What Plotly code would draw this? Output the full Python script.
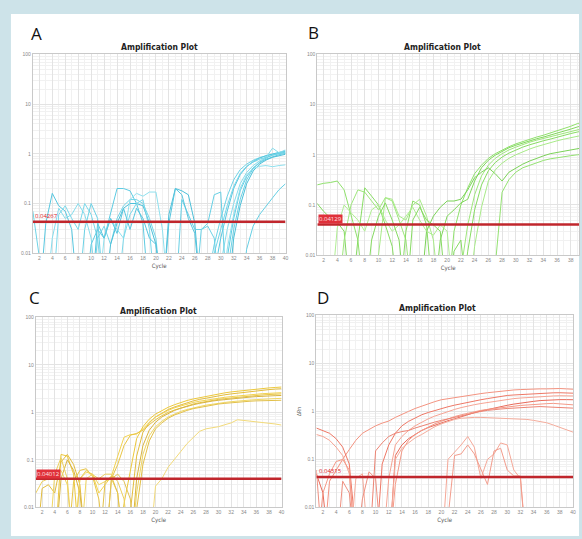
import math
import plotly.graph_objects as go

L = 0.001  # reading that falls below the 0.01 floor of the log axis

CYCLES = list(range(1, 41))
X_TICK_VALUES = [2, 4, 6, 8, 10, 12, 14, 16, 18, 20, 22, 24, 26, 28, 30, 32, 34, 36, 38, 40]
X_TICK_LABELS = ["2", "4", "6", "8", "10", "12", "14", "16", "18", "20",
                 "22", "24", "26", "28", "30", "32", "34", "36", "38", "40"]
Y_TICK_VALUES = [0.01, 0.1, 1, 10, 100]
Y_TICK_LABELS = ["0.01", "0.1", "1", "10", "100"]
THRESHOLDS = [0.043, 0.041, 0.040, 0.043]
THRESHOLD_LABELS = ["0.04267", "0.04129", "0.04012", "0.04315"]
PANEL_LETTERS = ["A", "B", "C", "D"]
PANEL_TITLE = "Amplification Plot"
X_TITLE = "Cycle"

# ---------------- Panel A (cyan) ----------------
A01 = [0.07, 0.012, L, L, L, L, L, L, L, L,
       L, L, L, L, L, L, L, L, L, L,
       L, L, L, L, L, L, L, 0.003, 0.015, 0.05,
       0.14, 0.3, 0.48, 0.62, 0.74, 0.84, 0.92, 0.98, 1.05, 1.12]
A02 = [L, L, 0.04, 0.16, 0.09, 0.07, 0.03, L, L, L,
       L, L, L, L, L, L, L, L, L, L,
       L, L, L, L, L, L, L, L, 0.004, 0.02,
       0.07, 0.2, 0.38, 0.55, 0.7, 0.82, 0.92, 1.0, 1.08, 1.15]
A03 = [L, L, L, 0.02, 0.08, 0.05, 0.06, 0.1, 0.06, 0.02,
       L, L, L, L, L, L, L, L, L, L,
       L, L, L, L, L, L, L, L, L, 0.006,
       0.03, 0.1, 0.25, 0.42, 0.58, 0.72, 0.85, 1.3, 1.05, 1.2]
A04 = [L, L, L, L, L, L, L, L, L, 0.015,
       0.03, 0.02, 0.06, 0.2, 0.2, 0.18, 0.1, 0.04, L, L,
       L, L, L, L, L, L, L, L, L, L,
       0.008, 0.05, 0.18, 0.35, 0.52, 0.66, 0.78, 0.88, 0.96, 1.02]
A05 = [L, L, L, L, L, L, L, L, L, L,
       0.02, 0.035, 0.015, 0.05, 0.09, 0.12, 0.12, 0.1, 0.05, 0.02,
       L, L, L, L, L, L, L, L, 0.01, 0.03,
       0.09, 0.22, 0.4, 0.56, 0.68, 0.78, 0.86, 0.93, 1.0, 1.06]
A06 = [L, L, L, L, L, L, L, L, L, L,
       L, L, 0.015, 0.04, 0.08, 0.1, 0.1, 0.09, 0.04, 0.015,
       L, 0.06, 0.2, 0.18, 0.15, 0.04, L, L, L, L,
       L, 0.02, 0.09, 0.25, 0.45, 0.62, 0.75, 0.85, 0.92, 0.98]
A07 = [L, L, L, L, L, L, L, L, L, L,
       L, 0.02, 0.05, 0.03, 0.02, 0.12, 0.16, 0.14, 0.17, 0.17,
       0.03, L, L, L, L, L, L, L, L, L,
       0.012, 0.06, 0.2, 0.38, 0.5, 0.56, 0.58, 0.55, 0.58, 0.6]
A08 = [L, L, L, L, L, L, L, L, L, L,
       L, L, L, L, L, L, L, L, L, L,
       L, L, L, 0.12, 0.06, 0.03, 0.03, 0.04, 0.15, 0.17,
       L, L, L, 0.012, 0.035, 0.06, 0.09, 0.13, 0.19, 0.25]
A09 = [L, L, L, L, 0.06, 0.09, 0.05, 0.03, 0.1, 0.06,
       0.02, L, L, L, 0.02, 0.06, 0.1, 0.12, 0.03, L,
       L, L, L, L, L, L, L, L, L, L,
       L, L, L, L, L, L, L, L, L, L]
A10 = [L, L, L, L, L, L, L, L, L, L,
       0.04, 0.02, 0.05, 0.025, 0.08, 0.03, 0.08, 0.05, 0.02, 0.015,
       L, 0.04, 0.2, 0.15, 0.05, 0.025, L, L, L, L,
       L, L, L, L, L, L, L, L, L, L]
A11 = [L, L, L, L, L, L, L, L, 0.03, 0.1,
       0.05, L, L, L, L, L, L, L, L, L,
       L, L, L, L, L, L, 0.03, 0.035, 0.02, L,
       0.004, 0.03, 0.12, 0.3, 0.5, 0.68, 0.82, 0.95, 1.02, 1.08]

# ---------------- Panel B (green) ----------------
B01 = [0.25, 0.27, 0.28, 0.3, 0.2, 0.06, 0.02, L, L, L,
       L, L, L, L, L, L, L, L, L, L,
       0.03, 0.1, 0.22, 0.42, 0.62, 0.85, 1.05, 1.25, 1.45, 1.65,
       1.85, 2.05, 2.25, 2.45, 2.7, 3.0, 3.35, 3.7, 4.2, 4.5]
B02 = [0.11, 0.075, 0.055, 0.045, 0.03, L, L, L, L, L,
       L, L, L, L, L, L, L, L, 0.02, 0.06,
       0.08, 0.11, 0.13, 0.3, 0.55, 0.78, 0.98, 1.18, 1.38, 1.55,
       1.72, 1.9, 2.08, 2.25, 2.45, 2.7, 2.95, 3.25, 3.6, 3.9]
B03 = [L, L, L, L, 0.02, 0.1, 0.2, 0.18, 0.12, 0.08,
       0.14, 0.12, 0.05, 0.02, L, L, L, L, L, L,
       L, 0.005, 0.04, 0.16, 0.38, 0.62, 0.85, 1.05, 1.25, 1.42,
       1.6, 1.78, 1.95, 2.12, 2.3, 2.5, 2.72, 2.95, 3.2, 3.4]
B04 = [L, L, L, L, L, L, 0.02, 0.22, 0.15, 0.1,
       0.04, 0.015, L, 0.03, 0.12, 0.1, 0.04, L, L, L,
       L, L, 0.012, 0.08, 0.25, 0.48, 0.7, 0.9, 1.08, 1.25,
       1.42, 1.58, 1.75, 1.9, 2.05, 2.25, 2.45, 2.65, 2.85, 3.0]
B05 = [L, L, L, L, L, L, L, L, L, 0.01,
       0.14, 0.13, 0.06, 0.05, 0.1, 0.13, 0.06, 0.02, L, L,
       L, L, L, 0.015, 0.09, 0.3, 0.5, 0.68, 0.85, 1.0,
       1.15, 1.3, 1.45, 1.6, 1.75, 1.9, 2.05, 2.2, 2.4, 2.5]
B06 = [L, L, L, L, L, L, L, L, L, L,
       L, L, L, L, L, L, 0.03, 0.06, 0.09, 0.12,
       0.12, 0.13, 0.2, 0.35, 0.45, 0.55, 0.42, 0.3, 0.45, 0.55,
       0.65, 0.75, 0.85, 0.95, 1.05, 1.12, 1.2, 1.28, 1.35, 1.4]
B07 = [L, L, L, L, L, L, L, L, L, L,
       L, L, L, L, L, L, L, L, L, L,
       L, L, L, L, L, L, 0.006, 0.18, 0.32, 0.45,
       0.55, 0.62, 0.7, 0.77, 0.83, 0.88, 0.92, 0.96, 1.0, 1.03]
B08 = [L, L, L, 0.035, 0.1, 0.07, 0.05, 0.03, 0.08, 0.1,
       0.05, 0.03, 0.04, 0.06, 0.09, 0.05, 0.03, 0.025, 0.04, 0.03,
       L, L, L, L, L, L, L, L, L, L,
       L, L, L, L, L, L, L, L, L, L]
B09 = [L, L, L, L, L, L, L, L, 0.02, 0.06,
       0.11, 0.05, 0.02, L, 0.05, 0.09, 0.05, 0.04, 0.03, L,
       0.012, 0.02, L, L, L, L, L, L, L, L,
       L, L, L, L, L, L, L, L, L, L]

# ---------------- Panel C (gold) ----------------
C01 = [L, L, L, L, 0.13, 0.12, 0.05, L, L, L,
       L, L, L, L, 0.012, 0.06, 0.28, 0.5, 0.72, 0.92,
       1.1, 1.28, 1.45, 1.62, 1.78, 1.92, 2.05, 2.2, 2.33, 2.45,
       2.58, 2.7, 2.8, 2.9, 3.0, 3.1, 3.2, 3.28, 3.35, 3.42]
C02 = [L, 0.025, 0.03, 0.02, 0.09, 0.13, 0.08, 0.03, L, L,
       L, L, L, L, L, 0.008, 0.12, 0.38, 0.6, 0.8,
       0.98, 1.15, 1.3, 1.45, 1.6, 1.75, 1.88, 2.0, 2.12, 2.25,
       2.35, 2.45, 2.55, 2.65, 2.75, 2.85, 2.95, 3.02, 3.1, 3.15]
C03 = [L, L, L, L, L, L, L, 0.04, 0.055, 0.05,
       0.02, 0.03, 0.045, 0.12, 0.3, 0.34, 0.35, 0.45, 0.62, 0.8,
       0.95, 1.1, 1.25, 1.38, 1.5, 1.62, 1.72, 1.82, 1.92, 2.0,
       2.08, 2.15, 2.22, 2.3, 2.36, 2.42, 2.48, 2.52, 2.56, 2.6]
C04 = [L, L, L, L, L, L, 0.035, 0.06, 0.065, 0.045,
       0.015, L, 0.04, 0.08, 0.2, 0.33, 0.36, 0.42, 0.55, 0.7,
       0.85, 1.0, 1.12, 1.25, 1.38, 1.5, 1.6, 1.7, 1.8, 1.88,
       1.95, 2.02, 2.1, 2.16, 2.22, 2.28, 2.33, 2.38, 2.42, 2.45]
C05 = [L, L, L, L, 0.04, 0.1, 0.06, 0.02, L, L,
       L, L, L, L, L, L, 0.04, 0.2, 0.42, 0.62,
       0.8, 0.95, 1.1, 1.22, 1.35, 1.45, 1.55, 1.65, 1.73, 1.8,
       1.87, 1.93, 2.0, 2.05, 2.1, 2.15, 2.2, 2.22, 2.25, 2.27]
C06 = [L, L, L, 0.05, 0.06, 0.03, L, L, 0.04, 0.05,
       0.03, 0.035, 0.04, 0.02, L, L, 0.02, 0.13, 0.32, 0.5,
       0.65, 0.8, 0.93, 1.05, 1.15, 1.25, 1.33, 1.42, 1.5, 1.56,
       1.62, 1.68, 1.74, 1.78, 1.82, 1.86, 1.9, 1.93, 1.96, 1.98]
C07 = [L, L, L, L, L, L, L, L, L, L,
       L, 0.035, 0.045, 0.02, L, L, 0.01, 0.08, 0.25, 0.45,
       0.6, 0.75, 0.88, 1.0, 1.1, 1.2, 1.28, 1.36, 1.43, 1.5,
       1.55, 1.6, 1.65, 1.68, 1.72, 1.75, 1.77, 1.79, 1.8, 1.8]
C08 = [L, L, L, L, L, L, L, L, L, L,
       L, L, L, L, L, L, L, L, L, 0.028,
       0.04, 0.07, 0.1, 0.15, 0.22, 0.3, 0.4, 0.45, 0.47, 0.5,
       0.55, 0.6, 0.7, 0.68, 0.65, 0.62, 0.62, 0.6, 0.57, 0.54]
C09 = [0.02, 0.035, 0.04, 0.05, 0.11, 0.04, L, 0.04, 0.06, 0.05,
       0.04, 0.05, 0.05, 0.035, 0.015, L, L, L, L, L,
       L, L, L, L, L, L, L, L, L, L,
       L, L, L, L, L, L, L, L, L, L]
C10 = [L, L, L, L, L, L, L, L, L, L,
       L, L, 0.04, 0.05, 0.035, 0.015, L, L, L, L,
       L, L, L, L, L, L, L, L, L, L,
       L, L, L, L, L, L, L, L, L, L]

# ---------------- Panel D (red) ----------------
D01 = [L, L, 0.035, 0.06, 0.1, 0.16, 0.25, 0.35, 0.42, 0.5,
       0.57, 0.63, 0.75, 0.88, 1.0, 1.15, 1.3, 1.45, 1.6, 1.75,
       1.85, 1.95, 2.05, 2.15, 2.25, 2.35, 2.45, 2.55, 2.65, 2.75,
       2.8, 2.85, 2.9, 2.9, 2.95, 2.95, 3.0, 3.0, 2.95, 2.9]
D02 = [0.45, 0.4, 0.35, 0.27, 0.18, 0.08, 0.003, L, L, L,
       0.08, 0.2, 0.35, 0.5, 0.62, 0.73, 0.85, 0.95, 1.05, 1.15,
       1.25, 1.35, 1.45, 1.55, 1.65, 1.75, 1.85, 1.95, 2.05, 2.15,
       2.2, 2.25, 2.3, 2.35, 2.4, 2.42, 2.44, 2.45, 2.45, 2.4]
D03 = [0.33, 0.3, 0.25, 0.18, 0.12, 0.05, L, L, L, L,
       L, 0.04, 0.2, 0.3, 0.4, 0.5, 0.6, 0.7, 0.8, 0.9,
       1.0, 1.1, 1.2, 1.3, 1.38, 1.46, 1.54, 1.62, 1.7, 1.78,
       1.85, 1.9, 1.95, 2.0, 2.05, 2.08, 2.1, 2.12, 2.12, 2.1]
D04 = [0.05, 0.02, L, L, L, L, L, L, L, L,
       L, L, 0.12, 0.2, 0.27, 0.33, 0.4, 0.46, 0.52, 0.58,
       0.64, 0.7, 0.78, 0.86, 0.94, 1.02, 1.1, 1.18, 1.26, 1.34,
       1.42, 1.5, 1.56, 1.62, 1.68, 1.72, 1.75, 1.76, 1.76, 1.75]
D05 = [L, 0.02, 0.05, 0.09, 0.1, 0.06, L, L, L, L,
       L, L, 0.03, 0.15, 0.25, 0.33, 0.4, 0.47, 0.55, 0.62,
       0.7, 0.78, 0.85, 0.92, 1.0, 1.05, 1.1, 1.15, 1.2, 1.25,
       1.3, 1.33, 1.36, 1.4, 1.42, 1.45, 1.47, 1.42, 1.38, 1.37]
D06 = [L, L, L, L, L, L, L, L, L, 0.15,
       0.22, 0.3, 0.35, 0.38, 0.4, 0.45, 0.5, 0.55, 0.6, 0.65,
       0.7, 0.75, 0.8, 0.88, 0.95, 1.0, 1.05, 1.1, 1.12, 1.15,
       1.18, 1.2, 1.22, 1.24, 1.26, 1.25, 1.22, 1.2, 1.18, 1.17]
D07 = [L, L, L, L, L, L, 0.04, 0.05, L, L,
       L, L, 0.1, 0.17, 0.22, 0.28, 0.33, 0.4, 0.48, 0.55,
       0.62, 0.68, 0.72, 0.74, 0.75, 0.75, 0.74, 0.74, 0.73, 0.73,
       0.72, 0.7, 0.68, 0.65, 0.62, 0.58, 0.52, 0.46, 0.41, 0.37]
D08 = [L, L, L, L, L, L, L, L, L, L,
       L, L, L, L, L, L, L, L, L, L,
       0.1, 0.14, 0.2, 0.3, 0.18, 0.04, 0.1, 0.13, 0.22, 0.2,
       0.06, 0.04, L, L, L, L, L, L, L, L]
D09 = [L, L, L, L, L, L, L, L, L, L,
       L, L, L, L, L, L, L, L, L, L,
       0.006, 0.12, 0.13, 0.2, 0.13, 0.06, 0.03, 0.15, 0.17, 0.06,
       0.045, 0.045, L, L, L, L, L, L, L, L]
D10 = [0.06, L, L, L, 0.035, 0.02, L, 0.015, 0.055, 0.04,
       L, L, L, L, L, L, L, L, L, L,
       L, L, L, L, L, L, L, L, L, L,
       L, L, L, L, L, L, L, L, L, L]

PANEL_A = [A01, A02, A03, A04, A05, A06, A07, A08, A09, A10, A11]
PANEL_B = [B01, B02, B03, B04, B05, B06, B07, B08, B09]
PANEL_C = [C01, C02, C03, C04, C05, C06, C07, C08, C09, C10]
PANEL_D = [D01, D02, D03, D04, D05, D06, D07, D08, D09, D10]

# ---------------- styles ----------------
COLORS_A = ["#6fd3e6", "#55c6df", "#86dcec", "#5ecbe2", "#74d5e8", "#4bbfd8",
            "#8fe0ee", "#66cfe4", "#7ad8ea", "#58c5de", "#6ad1e5"]
COLORS_B = ["#8fe06c", "#80d75c", "#9ee67c", "#88dc64", "#a8ea88", "#7bd258",
            "#94e272", "#b0ee94", "#86da62"]
COLORS_C = ["#ecc83c", "#e2bc3e", "#f2d250", "#e8c444", "#d8b440", "#f0d662",
            "#e2c04a", "#f2da7a", "#eccf5e", "#e2c256"]
COLORS_D = ["#f39380", "#ee7866", "#f6a494", "#e86a5a", "#f49a88", "#ec8474",
            "#f4ac9c", "#f5a898", "#f29c8c", "#ee9080"]

W, H = 582, 539
panels = [
    dict(data=PANEL_A, colors=COLORS_A, px=(33, 287), py=(52, 253), xr=[1, 40],
         letter=(29, 17), title=(160, 45), thr_style="text", ylab=""),
    dict(data=PANEL_B, colors=COLORS_B, px=(319, 582), py=(52, 255), xr=[1.1, 39.2],
         letter=(308, 16), title=(445, 44), thr_style="box", ylab=""),
    dict(data=PANEL_C, colors=COLORS_C, px=(36, 283), py=(318, 510), xr=[1, 40],
         letter=(27, 284), title=(159, 311), thr_style="box", ylab=""),
    dict(data=PANEL_D, colors=COLORS_D, px=(318, 576), py=(316, 510), xr=[1, 40],
         letter=(317, 284), title=(440, 308), thr_style="text", ylab="ΔRn"),
]

fig = go.Figure()
annotations = []
GRID = "#e3e3e3"
MINOR = "#f1f1f1"
TITLE_FONT = "DejaVu Sans Condensed, Liberation Sans Narrow, Liberation Sans"

for i, p in enumerate(panels):
    n = i + 1
    xa = "x" if n == 1 else f"x{n}"
    ya = "y" if n == 1 else f"y{n}"
    for vals, col in zip(p["data"], p["colors"]):
        fig.add_trace(go.Scatter(x=CYCLES, y=vals, mode="lines",
                                 line=dict(color=col, width=1),
                                 xaxis=xa, yaxis=ya, hoverinfo="skip"))
    thr = THRESHOLDS[i]
    fig.add_trace(go.Scatter(x=p["xr"], y=[thr, thr], mode="lines",
                             line=dict(color="#c0262c", width=2.5),
                             xaxis=xa, yaxis=ya, hoverinfo="skip"))
    xd = [p["px"][0] / W, p["px"][1] / W]
    yd = [1 - p["py"][1] / H, 1 - p["py"][0] / H]
    xkey = "xaxis" if n == 1 else f"xaxis{n}"
    ykey = "yaxis" if n == 1 else f"yaxis{n}"
    fig.layout[xkey] = dict(
        domain=xd, range=p["xr"], anchor=ya, tickmode="array",
        tickvals=X_TICK_VALUES, ticktext=X_TICK_LABELS,
        tickfont=dict(size=5, color="#888", family="Liberation Sans"),
        ticks="", showgrid=True, gridcolor=GRID, gridwidth=1,
        minor=dict(dtick=1, showgrid=True, gridcolor=MINOR),
        showline=True, linecolor="#c9c9c9", mirror=True, zeroline=False,
        title=dict(text=X_TITLE, font=dict(size=6, color="#555", family=TITLE_FONT),
                   standoff=3),
        fixedrange=True,
    )
    fig.layout[ykey] = dict(
        domain=yd, type="log", range=[-2, 2], anchor=xa, tickmode="array",
        tickvals=Y_TICK_VALUES, ticktext=Y_TICK_LABELS,
        tickfont=dict(size=5, color="#888", family="Liberation Sans"),
        ticks="", showgrid=True, gridcolor=GRID, gridwidth=1,
        minor=dict(dtick="D1", showgrid=True, gridcolor=MINOR),
        showline=True, linecolor="#c9c9c9", mirror=True, zeroline=False,
        title=dict(text=p["ylab"], font=dict(size=5, color="#555"), standoff=2),
        fixedrange=True,
    )
    annotations.append(dict(text=PANEL_LETTERS[i], xref="paper", yref="paper",
                            x=p["letter"][0] / W, y=1 - p["letter"][1] / H,
                            xanchor="left", yanchor="top", showarrow=False,
                            font=dict(size=17, color="#111", family="Open Sans")))
    annotations.append(dict(text="<b>" + PANEL_TITLE + "</b>", xref="paper", yref="paper",
                            x=p["title"][0] / W, y=1 - p["title"][1] / H,
                            xanchor="center", yanchor="middle", showarrow=False,
                            font=dict(size=8.5, color="#222", family=TITLE_FONT)))
    if p["thr_style"] == "box":
        annotations.append(dict(text=THRESHOLD_LABELS[i], xref=xa, yref=ya,
                                x=p["xr"][0] + 0.05, y=math.log10(thr),
                                xanchor="left", yanchor="bottom", showarrow=False,
                                bgcolor="#e0303a", borderpad=0,
                                font=dict(size=6, color="#ffe0e0")))
    else:
        annotations.append(dict(text=THRESHOLD_LABELS[i], xref=xa, yref=ya,
                                x=p["xr"][0] + 0.05, y=math.log10(thr),
                                xanchor="left", yanchor="bottom", showarrow=False,
                                font=dict(size=6, color="#e0202a")))

fig.update_layout(
    width=W, height=H, margin=dict(l=0, r=0, t=0, b=0),
    paper_bgcolor="#cde3e9", plot_bgcolor="white", showlegend=False,
    annotations=annotations,
    shapes=[dict(type="rect", xref="paper", yref="paper", x0=11 / W, x1=1,
                 y0=0, y1=1 - 11 / H, fillcolor="white", line=dict(width=0),
                 layer="below")],
)

# remove the browser's default 8px page margin so the figure fills the window
fig.write_html("out.html",
               config={"displayModeBar": False},
               post_script="document.body.style.margin='0';document.body.style.overflow='hidden';")
